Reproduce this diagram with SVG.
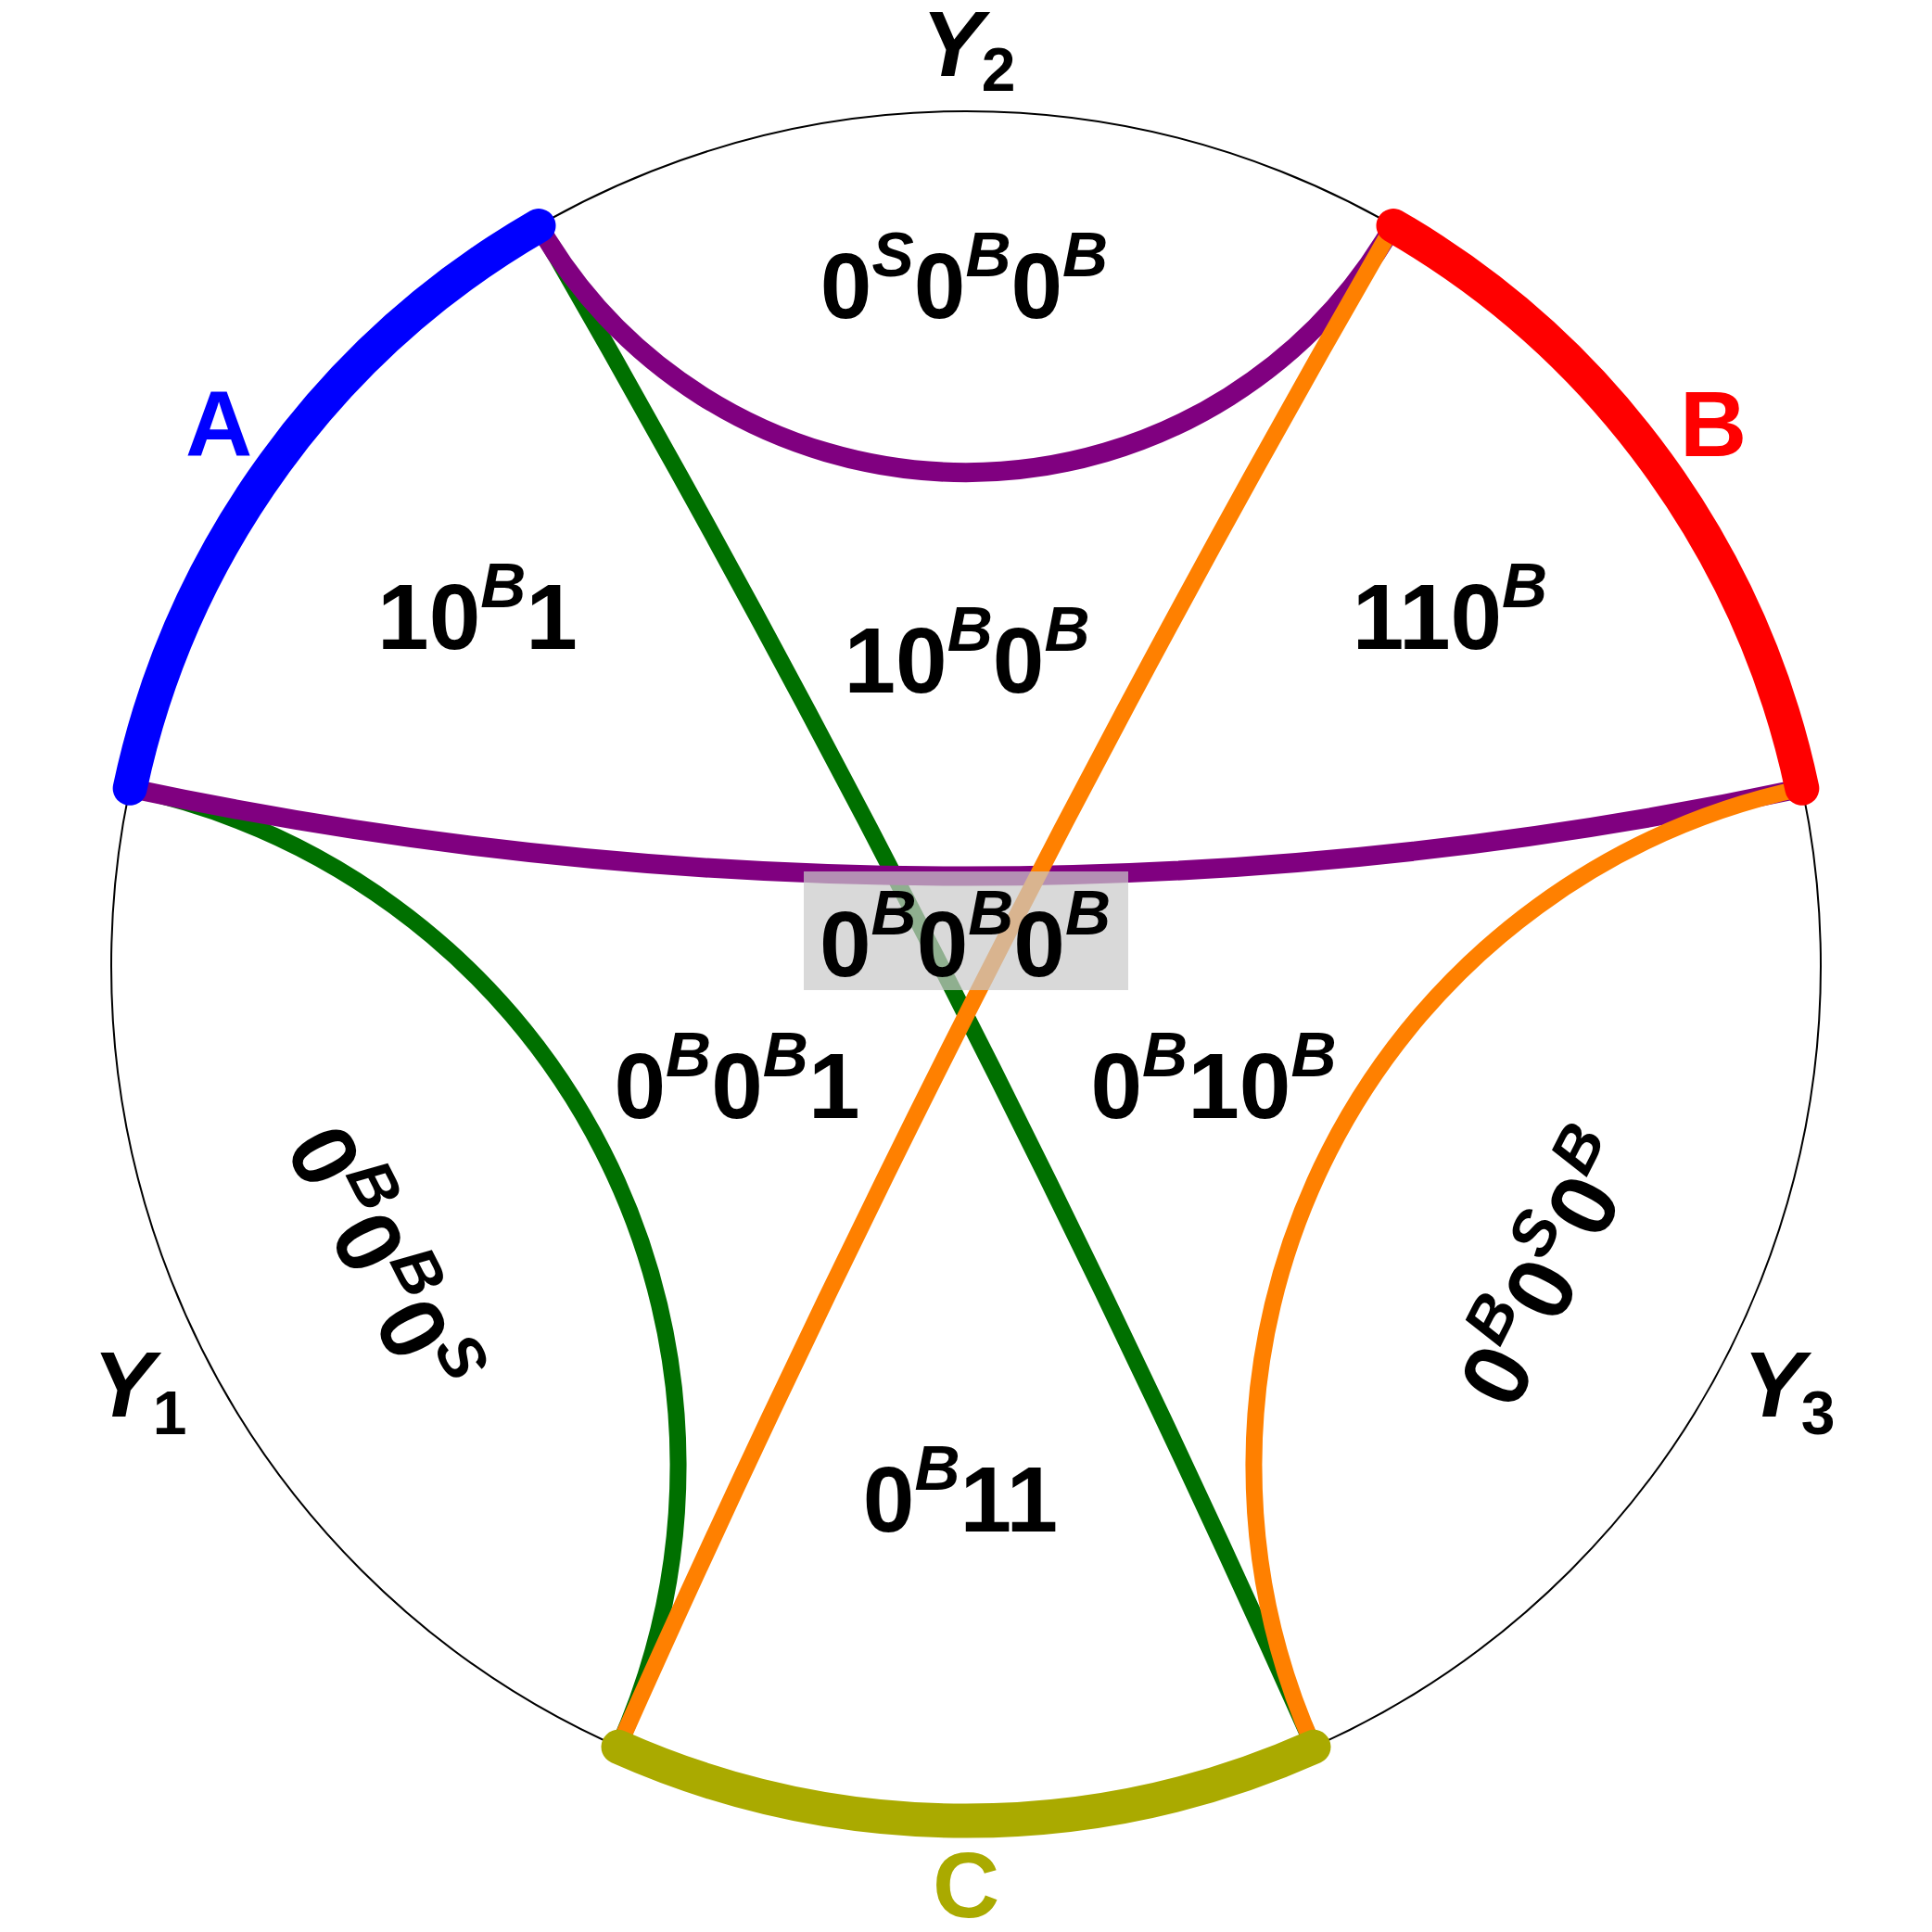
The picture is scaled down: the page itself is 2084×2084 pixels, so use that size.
<svg xmlns="http://www.w3.org/2000/svg" width="2084" height="2084" viewBox="0 0 2084 2084">
<style>
.geo{fill:none;stroke-linecap:butt}
.pur{stroke:#800080;stroke-width:21}
.grn{stroke:#007000;stroke-width:18}
.org{stroke:#ff8000;stroke-width:18}
.node{fill:none;stroke-width:37;stroke-linecap:round}
.lbl{font-family:"Liberation Sans",Arial,sans-serif;font-weight:bold;font-size:100px;fill:#000}
.sup{font-size:68px;font-style:italic}
.sub{font-size:66px;font-style:normal}
.nl{font-family:"Liberation Sans",Arial,sans-serif;font-weight:bold;font-size:100px;text-anchor:middle}
</style>
<rect width="2084" height="2084" fill="#fff"/>
<circle id="boundary" cx="1042" cy="1042" r="922" fill="none" stroke="#000" stroke-width="2"/>
<g id="connectors">
<path class="geo grn" d="M581,243.5 A17592.8,17592.8 0 0 1 1417,1884.3"/>
<path class="geo grn" d="M140.15,850.3 A746.62,746.62 0 0 1 667,1884.3"/>
<path class="geo pur" d="M581,243.5 A532.32,532.32 0 0 0 1503,243.5"/>
<path class="geo pur" d="M140.15,850.3 A4337.67,4337.67 0 0 0 1943.85,850.3"/>
<path class="geo org" d="M1503,243.5 A17592.8,17592.8 0 0 0 667,1884.3"/>
<path class="geo org" d="M1943.85,850.3 A746.62,746.62 0 0 0 1417,1884.3"/>
</g>
<g id="A">
<path class="node" stroke="#0000ff" d="M140.15,850.3 A922,922 0 0 1 581,243.5"/>
<text class="nl" x="236" y="492" fill="#0000ff">A</text>
</g>
<g id="B">
<path class="node" stroke="#ff0000" d="M1503,243.5 A922,922 0 0 1 1943.85,850.3"/>
<text class="nl" x="1848" y="492" fill="#ff0000">B</text>
</g>
<g id="C">
<path class="node" stroke="#aaaa00" d="M1417,1884.3 A922,922 0 0 1 667,1884.3"/>
<text class="nl" x="1042" y="2068" fill="#aaaa00">C</text>
</g>
<g id="highlight">
<rect x="867" y="940" width="350" height="128" fill="#c9c9c9" fill-opacity="0.71"/>
</g>
<g id="regions">
<text class="lbl" x="1040" y="343" text-anchor="middle">0<tspan class="sup" dy="-45">S</tspan><tspan dy="45">0</tspan><tspan class="sup" dy="-45">B</tspan><tspan dy="45">0</tspan><tspan class="sup" dy="-45">B</tspan></text>
<text class="lbl" x="515" y="700" text-anchor="middle">10<tspan class="sup" dy="-45">B</tspan><tspan dy="45">1</tspan></text>
<text class="lbl" x="1043" y="747" text-anchor="middle">10<tspan class="sup" dy="-45">B</tspan><tspan dy="45">0</tspan><tspan class="sup" dy="-45">B</tspan></text>
<text class="lbl" x="1564" y="700" text-anchor="middle">110<tspan class="sup" dy="-45">B</tspan></text>
<text class="lbl" x="1041" y="1053" text-anchor="middle">0<tspan class="sup" dy="-45">B</tspan><tspan dy="45">0</tspan><tspan class="sup" dy="-45">B</tspan><tspan dy="45">0</tspan><tspan class="sup" dy="-45">B</tspan></text>
<text class="lbl" x="795" y="1206" text-anchor="middle">0<tspan class="sup" dy="-45">B</tspan><tspan dy="45">0</tspan><tspan class="sup" dy="-45">B</tspan><tspan dy="45">1</tspan></text>
<text class="lbl" x="1309" y="1206" text-anchor="middle">0<tspan class="sup" dy="-45">B</tspan><tspan dy="45">10</tspan><tspan class="sup" dy="-45">B</tspan></text>
<text class="lbl" x="1036" y="1652" text-anchor="middle">0<tspan class="sup" dy="-45">B</tspan><tspan dy="45">11</tspan></text>
<text class="lbl" text-anchor="middle" transform="translate(377,1376) rotate(63)">0<tspan class="sup" dy="-45">B</tspan><tspan dy="45">0</tspan><tspan class="sup" dy="-45">B</tspan><tspan dy="45">0</tspan><tspan class="sup" dy="-45">S</tspan></text>
<text class="lbl" text-anchor="middle" transform="translate(1703,1386) rotate(-63)">0<tspan class="sup" dy="-45">B</tspan><tspan dy="45">0</tspan><tspan class="sup" dy="-45">S</tspan><tspan dy="45">0</tspan><tspan class="sup" dy="-45">B</tspan></text>
</g>
<g id="sides">
<text class="lbl" x="994" y="82" font-style="italic">Y<tspan class="sub" dx="-2" dy="16">2</tspan></text>
<text class="lbl" x="100" y="1528" font-style="italic">Y<tspan class="sub" dx="-2" dy="19">1</tspan></text>
<text class="lbl" x="1880" y="1528" font-style="italic">Y<tspan class="sub" dx="-4" dy="19">3</tspan></text>
</g>
</svg>
